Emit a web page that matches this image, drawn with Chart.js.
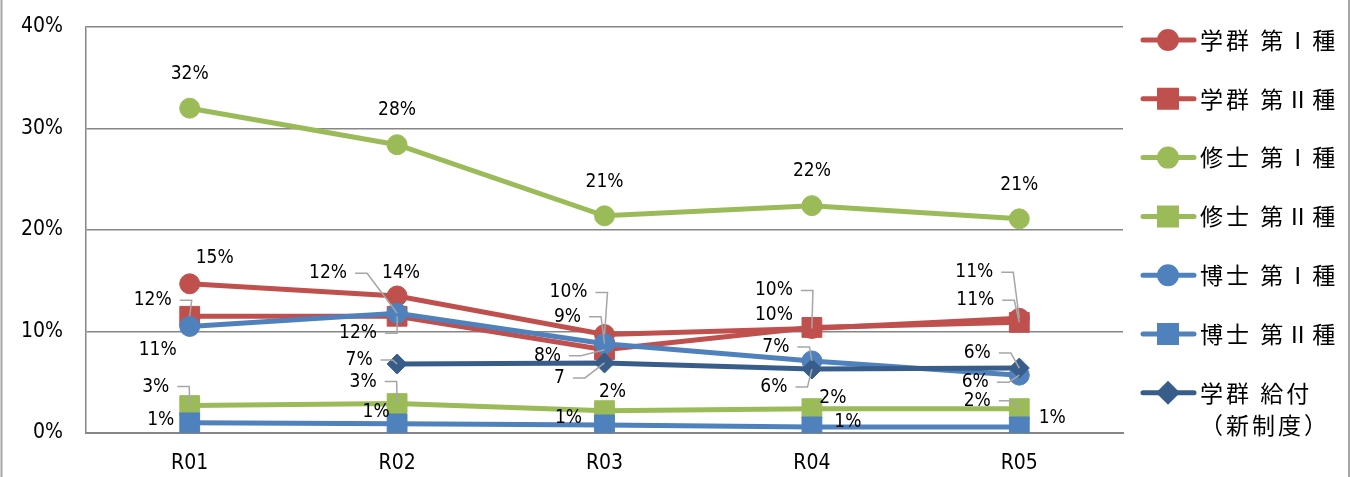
<!DOCTYPE html>
<html>
<head>
<meta charset="utf-8">
<script src="https://cdn.jsdelivr.net/npm/chart.js@4.4.1/dist/chart.umd.min.js"></script>
<style>
  html, body { margin: 0; padding: 0; background: #fff; }
  #wrap { width: 1359px; height: 477px; position: relative; }
</style>
</head>
<body>
<div id="wrap"><canvas id="rateChart" width="1359" height="477"></canvas></div>
<script>
  // values in percent
  const years = ['R01', 'R02', 'R03', 'R04', 'R05'];
  const yTicks = [0, 10, 20, 30, 40];

  const gakugun1 = [14.7, 13.5, 9.7, 10.3, 11.3];
  const gakugun2 = [11.5, 11.5, 8.2, 10.4, 10.9];
  const shushi1 = [32.0, 28.4, 21.4, 22.4, 21.1];
  const shushi2 = [2.7, 2.9, 2.2, 2.4, 2.4];
  const hakushi1 = [10.5, 11.8, 8.8, 7.1, 5.7];
  const hakushi2 = [1.0, 0.9, 0.8, 0.6, 0.6];
  const kyufu = [null, 6.8, 6.9, 6.3, 6.4];

  const seriesLabels = [
    '学群 第Ⅰ種', '学群 第Ⅱ種', '修士 第Ⅰ種', '修士 第Ⅱ種',
    '博士 第Ⅰ種', '博士 第Ⅱ種', ['学群 給付', '（新制度）'],
  ];

  // label placement: [dx, dy, leader line?, text override]
  const place = {
    gakugun1: [[25, -26], [4, -23], [-36, -42, true], [-38, -38, true], [-45, -46, true]],
    gakugun2: [[-37, -16, true], [-39, 17, true], [-57, 6, true], [-38, -12], [-44, -22, true]],
    shushi1: [[0, -34], [0, -35], [0, -34], [0, -35], [0, -34]],
    shushi2: [[-34, -19, true], [-34, -22, true], [8, -19], [21, -11], [-42, -8, true]],
    hakushi1: [[-32, 24], [-69, -40, true], [-37, -27, true], [-36, -14, true], [-44, 7, true]],
    hakushi2: [[-29, -3], [-21, -12], [-36, -7], [36, -5], [33, -9]],
    kyufu: [null, [-38, -4, true], [-45, 15, true, '7'], [-38, 18, true], [-42, -15, true]],
  };

  const RED = '#c0504d';
  const GREEN = '#9bbb59';
  const BLUE = '#4f81bd';
  const NAVY = '#385d8a';
  const NUM_FONT = '"DejaVu Sans Condensed", "Liberation Sans", sans-serif';
  const JP_FONT = '"Noto Sans CJK JP", sans-serif';

  function series(label, data, color, style, labelPlace, idx) {
    const r = style === 'rect' ? 14 : 10;
    return {
      label: label,
      data: data,
      borderColor: color,
      backgroundColor: color,
      borderWidth: 5,
      pointStyle: style,
      pointRadius: r,
      pointHoverRadius: r,
      pointBorderWidth: 1,
      pointBackgroundColor: color,
      pointBorderColor: color,
      tension: 0,
      spanGaps: false,
      order: 10 - idx,
      labelPlace: labelPlace,
    };
  }

  // frame lines on both sides of the picture
  const framePlugin = {
    id: 'frame',
    beforeDraw: function (chart) {
      const ctx = chart.ctx;
      ctx.save();
      ctx.strokeStyle = '#a6a6a6';
      ctx.lineWidth = 2;
      ctx.beginPath();
      ctx.moveTo(1.5, 0);
      ctx.lineTo(1.5, chart.height);
      ctx.moveTo(1349, 0);
      ctx.lineTo(1349, chart.height);
      ctx.stroke();
      ctx.restore();
    },
  };

  // value labels with gray leader lines
  const valueLabelPlugin = {
    id: 'valueLabels',
    afterDatasetsDraw: function (chart) {
      const ctx = chart.ctx;
      ctx.save();
      ctx.font = '19px ' + NUM_FONT;
      ctx.textAlign = 'center';
      ctx.textBaseline = 'middle';
      chart.data.datasets.forEach(function (ds, i) {
        const meta = chart.getDatasetMeta(i);
        meta.data.forEach(function (pt, j) {
          const v = ds.data[j];
          const p = ds.labelPlace[j];
          if (v === null || !p) {
            return;
          }
          const text = p[3] || Math.round(v) + '%';
          const lx = pt.x + p[0];
          const ly = pt.y + p[1];
          if (p[2]) {
            const w = ctx.measureText(text).width;
            const sx = lx + w / 2 + 8;
            const ex = sx + 12;
            ctx.strokeStyle = '#a6a6a6';
            ctx.lineWidth = 1.5;
            ctx.beginPath();
            ctx.moveTo(sx, ly);
            ctx.lineTo(ex, ly);
            ctx.lineTo(pt.x, pt.y);
            ctx.stroke();
          }
          ctx.fillStyle = '#000';
          ctx.fillText(text, lx, ly);
        });
      });
      ctx.restore();
    },
  };

  // legend on the right: line with marker, then name
  const sideLegendPlugin = {
    id: 'sideLegend',
    afterDraw: function (chart) {
      const ctx = chart.ctx;
      ctx.save();
      ctx.font = '23px ' + JP_FONT;
      ctx.letterSpacing = '3px';
      ctx.textAlign = 'left';
      ctx.textBaseline = 'middle';
      chart.data.datasets.forEach(function (ds, i) {
        const y = 40 + i * 58.8;
        ctx.strokeStyle = ds.borderColor;
        ctx.fillStyle = ds.borderColor;
        ctx.lineWidth = 5;
        ctx.lineCap = 'round';
        ctx.beginPath();
        ctx.moveTo(1143, y);
        ctx.lineTo(1194, y);
        ctx.stroke();
        Chart.helpers.drawPoint(ctx, {
          pointStyle: ds.pointStyle,
          radius: ds.pointStyle === 'rect' ? 12 : 8.5,
          rotation: 0,
          borderWidth: 1,
        }, 1168, y);
        ctx.fillStyle = '#000';
        const lines = Array.isArray(ds.label) ? ds.label : [ds.label];
        lines.forEach(function (line, k) {
          ctx.fillText(line, 1200, y + k * 32);
        });
      });
      ctx.restore();
    },
  };

  function init() {
    const canvas = document.getElementById('rateChart');
    new Chart(canvas, {
      type: 'line',
      data: {
        labels: years,
        datasets: [
          series(seriesLabels[0], gakugun1, RED, 'circle', place.gakugun1, 0),
          series(seriesLabels[1], gakugun2, RED, 'rect', place.gakugun2, 1),
          series(seriesLabels[2], shushi1, GREEN, 'circle', place.shushi1, 2),
          series(seriesLabels[3], shushi2, GREEN, 'rect', place.shushi2, 3),
          series(seriesLabels[4], hakushi1, BLUE, 'circle', place.hakushi1, 4),
          series(seriesLabels[5], hakushi2, BLUE, 'rect', place.hakushi2, 5),
          series(seriesLabels[6], kyufu, NAVY, 'rectRot', place.kyufu, 6),
        ],
      },
      options: {
        responsive: false,
        animation: false,
        layout: { padding: { top: 27, right: 236, bottom: 0, left: 0 } },
        plugins: {
          legend: { display: false },
          tooltip: { enabled: false },
        },
        scales: {
          x: {
            offset: true,
            grid: { display: false, drawTicks: false },
            border: { display: true, color: '#868686', width: 2 },
            ticks: {
              color: '#000',
              padding: 18,
              font: { family: NUM_FONT, size: 21 },
            },
            afterFit: function (scale) {
              scale.height = 44;
            },
          },
          y: {
            min: yTicks[0],
            max: yTicks[yTicks.length - 1],
            afterBuildTicks: function (scale) {
              scale.ticks = yTicks.map(function (v) {
                return { value: v };
              });
            },
            grid: { color: '#868686', lineWidth: 1.5, drawTicks: false },
            border: { display: true, color: '#868686', width: 1.5 },
            ticks: {
              color: '#000',
              padding: 23,
              font: { family: NUM_FONT, size: 21 },
              callback: function (v) {
                return v + '%';
              },
            },
            afterFit: function (scale) {
              scale.width = 86;
              scale.paddingTop = 12;
              scale.paddingBottom = 12;
            },
          },
        },
      },
      plugins: [framePlugin, valueLabelPlugin, sideLegendPlugin],
    });
  }

  document.addEventListener('DOMContentLoaded', init);
</script>
</body>
</html>
